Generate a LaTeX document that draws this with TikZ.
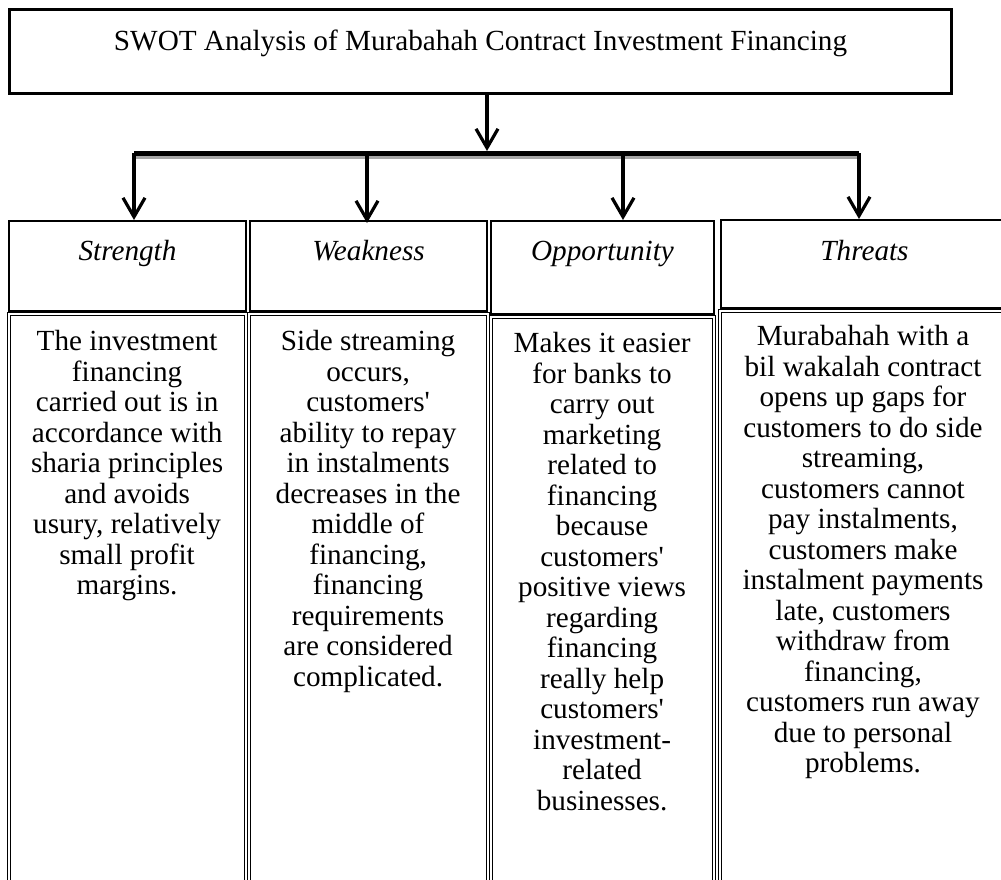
\documentclass[tikz,border=0pt]{standalone}
\usepackage{fontspec}
\setmainfont{Liberation Serif}
\usetikzlibrary{arrows.meta,positioning}

\tikzstyle{titlebox}=[draw, line width=1.5pt, inner sep=0pt, anchor=north west, minimum width=471pt, text height=20.5pt, text depth=21.5pt, font=\fontsize{14.6}{17}\selectfont]
\tikzstyle{headbox}=[draw, line width=1pt, inner sep=0pt, anchor=north west, font=\fontsize{14.6}{17}\selectfont\itshape]
\tikzstyle{bodybox}=[draw, double, double distance=0.9pt, line width=0.6pt, inner sep=0pt, anchor=north west]
\tikzstyle{bodytext}=[inner sep=0pt, align=center, font=\fontsize{14.6}{15.25}\selectfont]
\tikzstyle{branch}=[line width=1.6pt, -{Straight Barb[length=9.5pt,width=11pt]}]
\newcommand{\apo}{\textquotesingle}

\begin{document}
\begin{tikzpicture}[x=0.5pt, y=-0.5pt]
\useasboundingbox (0,0) rectangle (1001,879);

% title
\node[titlebox] (title) at (8,8) {SWOT Analysis of Murabahah Contract Investment Financing};

% headers
\node[headbox, minimum width=118.5pt, text height=19.75pt, text depth=25.25pt] (str) at (8,220) {Strength};
\node[headbox, minimum width=118.5pt, text height=19.75pt, text depth=25.25pt] (weak) at (249,220) {Weakness};
\node[headbox, minimum width=111.5pt, text height=19.75pt, text depth=26.75pt] (opp) at (490,220) {Opportunity};
\node[headbox, minimum width=160pt, text height=20.25pt, text depth=23.75pt] (thr) at (720,219) {Threats\hspace*{16.5pt}};

% bodies
\node[bodybox, minimum width=118.5pt, minimum height=286pt] (sbody) at (8,313) {};
\node[bodybox, minimum width=119.5pt, minimum height=286pt] (wbody) at (248,313) {};
\node[bodybox, minimum width=111.5pt, minimum height=284.5pt] (obody) at (490,316) {};
\node[bodybox, minimum width=160pt, minimum height=287.5pt] (tbody) at (719,310) {};

\node[bodytext, below=8.5pt of sbody.north] (stxt) {The investment\\ financing\\ carried out is in\\ accordance with\\ sharia principles\\ and avoids\\ usury, relatively\\ small profit\\ margins.};
\node[bodytext, below=8.5pt of wbody.north] (wtxt) {Side streaming\\ occurs,\\ customers\apo\\ ability to repay\\ in instalments\\ decreases in the\\ middle of\\ financing,\\ financing\\ requirements\\ are considered\\ complicated.};
\node[bodytext, below=8pt of obody.north] (otxt) {Makes it easier\\ for banks to\\ carry out\\ marketing\\ related to\\ financing\\ because\\ customers\apo\\ positive views\\ regarding\\ financing\\ really help\\ customers\apo\\ investment-\\ related\\ businesses.};
\node[bodytext, anchor=north] (ttxt) at ([xshift=72pt,yshift=-7.5pt]tbody.north west) {Murabahah with a\\ bil wakalah contract\\ opens up gaps for\\ customers to do side\\ streaming,\\ customers cannot\\ pay instalments,\\ customers make\\ instalment payments\\ late, customers\\ withdraw from\\ financing,\\ customers run away\\ due to personal\\ problems.};

% bar
\coordinate (hub) at (487,151);
\coordinate (bs) at (134,153);
\coordinate (bw) at (367,153);
\coordinate (bo) at (623,153);
\coordinate (bt) at (859,153);
\draw[gray!70, line width=2pt] (134,157) -- (859,157);
\draw[line width=2.5pt] (bs) -- (bt);

% arrows
\draw[branch] (title.south -| hub) -- (hub);
\draw[branch] (bs) -- (str.north -| bs);
\draw[branch] (bw) -- ([yshift=-1.5pt]weak.north -| bw);
\draw[branch] (bo) -- (opp.north -| bo);
\draw[branch] (bt) -- (thr.north -| bt);

\end{tikzpicture}
\end{document}
